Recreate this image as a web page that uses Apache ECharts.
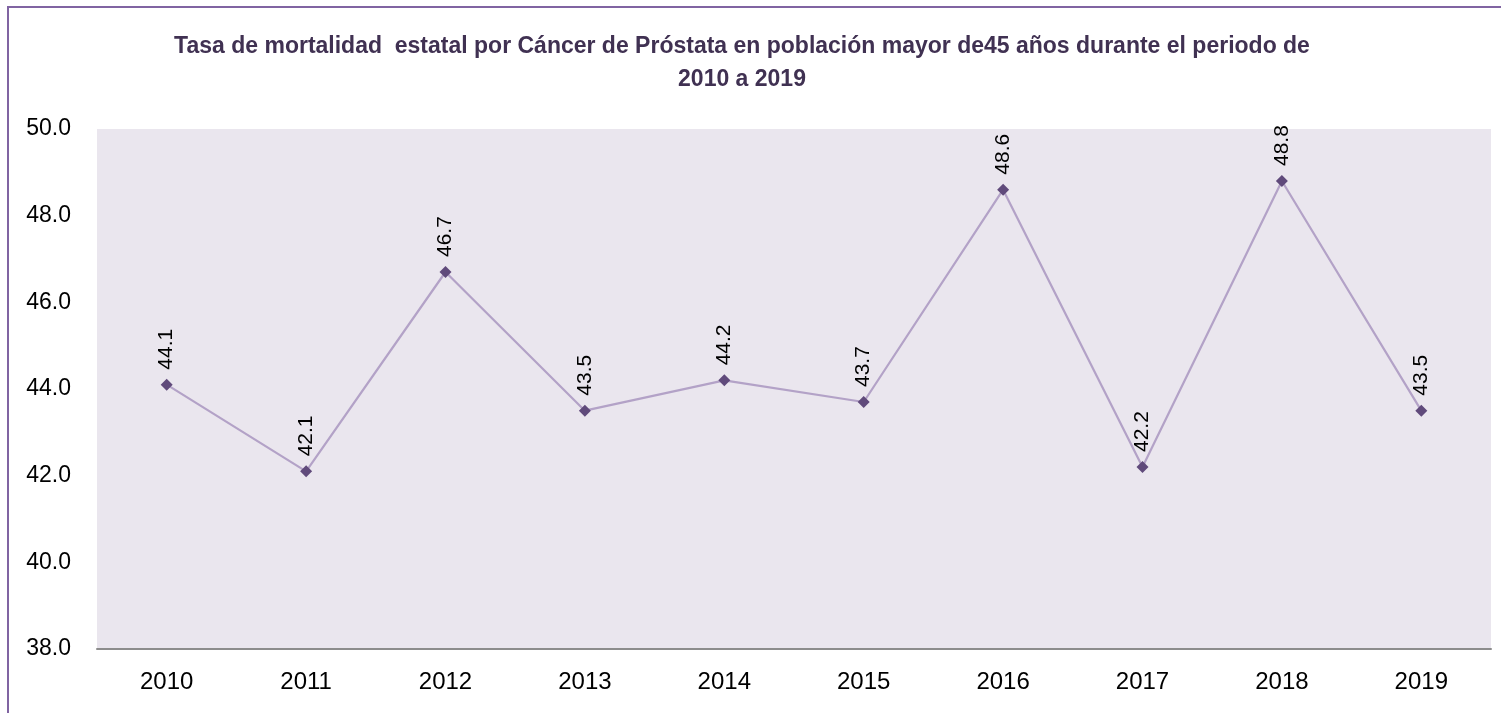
<!DOCTYPE html>
<html>
<head>
<meta charset="utf-8">
<script src="https://cdn.jsdelivr.net/npm/echarts@6/dist/echarts.min.js"></script>
<style>
  html, body { margin: 0; padding: 0; background: #fff; }
  #chart { width: 1501px; height: 713px; }
</style>
</head>
<body>
<div id="chart"></div>
<script>
// data
const years = ['2010', '2011', '2012', '2013', '2014', '2015', '2016', '2017', '2018', '2019'];
const rates = [44.1, 42.1, 46.7, 43.5, 44.2, 43.7, 48.6, 42.2, 48.8, 43.5];

const font = '"Liberation Sans Narrow", "Arial Narrow", "Liberation Sans", sans-serif';

const chart = echarts.init(document.getElementById('chart'));
chart.setOption({
  animation: false,
  title: {
    text: 'Tasa de mortalidad  estatal por Cáncer de Próstata en población mayor de45 años durante el periodo de\n2010 a 2019',
    left: 737,
    top: 25,
    textAlign: 'center',
    textStyle: {
      fontFamily: font,
      fontSize: 23,
      fontWeight: 'bold',
      color: '#403152',
      lineHeight: 33,
      align: 'center'
    }
  },
  graphic: [{
    type: 'rect',
    shape: { x: 8, y: 7, width: 1600, height: 800 },
    style: { fill: null, stroke: '#8064A2', lineWidth: 2 },
    z: 100
  }],
  grid: {
    left: 97,
    right: 10,
    top: 129,
    bottom: 64,
    show: true,
    backgroundColor: '#EAE6EE',
    borderWidth: 0
  },
  xAxis: {
    type: 'category',
    data: years,
    boundaryGap: true,
    axisLine: { lineStyle: { color: '#8C8C8C', width: 2 } },
    axisTick: { show: false },
    axisLabel: { fontFamily: font, fontSize: 24, color: '#000', margin: 21 }
  },
  yAxis: {
    type: 'value',
    min: 38,
    max: 50,
    interval: 2,
    splitLine: { show: false },
    axisLine: { show: false },
    axisTick: { show: false },
    axisLabel: {
      fontFamily: font,
      fontSize: 23,
      color: '#000',
      margin: 26,
      formatter: v => v.toFixed(1)
    }
  },
  series: [{
    type: 'line',
    data: rates,
    symbol: 'diamond',
    symbolSize: 12,
    lineStyle: { color: '#B3A2C7', width: 2.2 },
    itemStyle: { color: '#604A7B' },
    label: {
      show: true,
      position: 'top',
      rotate: 90,
      align: 'left',
      verticalAlign: 'middle',
      distance: 9,
      fontFamily: font,
      fontSize: 21,
      color: '#000',
      formatter: p => p.value.toFixed(1)
    }
  }]
});
</script>
</body>
</html>
